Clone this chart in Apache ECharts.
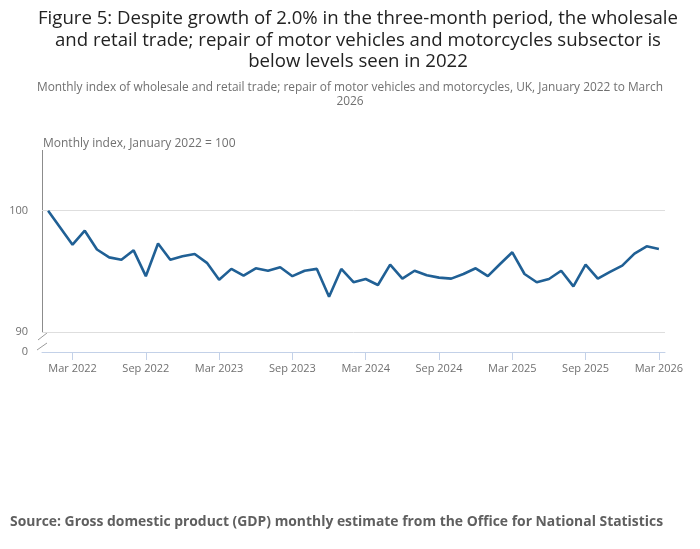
<!DOCTYPE html>
<html>
<head>
<meta charset="utf-8">
<script src="https://cdn.jsdelivr.net/npm/echarts@6/dist/echarts.min.js"></script>
<style>
html,body{margin:0;padding:0;background:#fff;}
#c{width:700px;height:549px;}
</style>
</head>
<body>
<div id="c"></div>
<script>
const months = [
  "Jan 2022","Feb 2022","Mar 2022","Apr 2022","May 2022","Jun 2022","Jul 2022","Aug 2022","Sep 2022","Oct 2022","Nov 2022","Dec 2022",
  "Jan 2023","Feb 2023","Mar 2023","Apr 2023","May 2023","Jun 2023","Jul 2023","Aug 2023","Sep 2023","Oct 2023","Nov 2023","Dec 2023",
  "Jan 2024","Feb 2024","Mar 2024","Apr 2024","May 2024","Jun 2024","Jul 2024","Aug 2024","Sep 2024","Oct 2024","Nov 2024","Dec 2024",
  "Jan 2025","Feb 2025","Mar 2025","Apr 2025","May 2025","Jun 2025","Jul 2025","Aug 2025","Sep 2025","Oct 2025","Nov 2025","Dec 2025",
  "Jan 2026","Feb 2026","Mar 2026"
];
const indexValues = [
  100.0, 98.6, 97.2, 98.35, 96.8, 96.15, 95.96, 96.73, 94.6, 97.3, 95.96, 96.24,
  96.43, 95.7, 94.3, 95.2, 94.64, 95.25, 95.05, 95.33, 94.6, 95.05, 95.2, 92.9,
  95.2, 94.1, 94.37, 93.87, 95.55, 94.4, 95.05, 94.67, 94.48, 94.4, 94.78, 95.25,
  94.6, 95.6, 96.57, 94.78, 94.1, 94.37, 95.05, 93.76, 95.55, 94.4, 94.95, 95.47,
  96.46, 97.06, 96.84
];
const xTickLabels = ["Mar 2022","Sep 2022","Mar 2023","Sep 2023","Mar 2024","Sep 2024","Mar 2025","Sep 2025","Mar 2026"];
const yTickValues = [0, 90, 100];
const gridLineValues = [90, 100];
const yBreak = { start: 0.5, end: 89.5 };

const FONT = "'Open Sans', sans-serif";
const chart = echarts.init(document.getElementById('c'), null, { renderer: 'canvas' });

const option = {
  animation: false,
  textStyle: { fontFamily: FONT },
  title: [{
    text: "Figure 5: Despite growth of 2.0% in the three-month period, the wholesale\nand retail trade; repair of motor vehicles and motorcycles subsector is\nbelow levels seen in 2022",
    left: 353, top: 3,
    textAlign: 'center',
    textStyle: { fontSize: 18.6, fontWeight: 'normal', color: '#222222', lineHeight: 21.5, fontFamily: FONT }
  }, {
    text: "Monthly index of wholesale and retail trade; repair of motor vehicles and motorcycles, UK, January 2022 to March\n2026",
    left: 345, top: 76,
    textAlign: 'center',
    textStyle: { fontSize: 11.9, fontWeight: 'normal', color: '#707070', lineHeight: 14, fontFamily: FONT }
  }, {
    text: "Source: Gross domestic product (GDP) monthly estimate from the Office for National Statistics",
    left: 5, top: 510,
    textStyle: { fontSize: 13.9, fontWeight: 'bold', color: '#5f5f5f', fontFamily: FONT }
  }],
  grid: { left: 42, right: 35, top: 150, bottom: 197, containLabel: false },
  xAxis: {
    type: 'category',
    data: months,
    boundaryGap: true,
    axisLine: { show: true, lineStyle: { color: '#c3d1e8', width: 1 } },
    axisTick: {
      show: true, alignWithLabel: true, length: 8,
      interval: (i, v) => xTickLabels.indexOf(v) >= 0,
      lineStyle: { color: '#c3d1e8' }
    },
    axisLabel: {
      interval: (i, v) => xTickLabels.indexOf(v) >= 0,
      color: '#707070', fontSize: 11, margin: 11, fontFamily: FONT
    },
    splitLine: { show: false }
  },
  yAxis: {
    type: 'value',
    min: 0, max: 105,
    breaks: [{ start: yBreak.start, end: yBreak.end, gap: '3.9%' }],
    breakArea: { show: false },
    name: "Monthly index, January 2022 = 100",
    nameLocation: 'end',
    nameGap: 2,
    nameTextStyle: { align: 'left', color: '#707070', fontSize: 12, fontFamily: FONT, padding: [0, 0, -2, 1] },
    axisLine: { show: false },
    axisTick: { show: false },
    axisLabel: { customValues: yTickValues, color: '#707070', fontSize: 11, margin: 14, fontFamily: FONT },
    splitLine: { show: false }
  },
  series: [{
    type: 'line',
    data: indexValues,
    symbol: 'none',
    lineStyle: { color: '#206095', width: 2.6 },
    itemStyle: { color: '#206095' },
    markLine: {
      silent: true, symbol: 'none', label: { show: false },
      lineStyle: { color: '#dedede', type: 'solid', width: 1 },
      data: gridLineValues.map(v => ({ yAxis: v })),
      z: 1
    },
    z: 3
  }]
};
chart.setOption(option);

function drawAxisDecor() {
  const axisX = 42;
  const yTop = chart.convertToPixel({ yAxisIndex: 0 }, 105);
  const y90 = chart.convertToPixel({ yAxisIndex: 0 }, 90);
  const y0 = chart.convertToPixel({ yAxisIndex: 0 }, 0);
  const mid = (y90 + y0) / 2;
  chart.setOption({
    graphic: [
      { type: 'line', shape: { x1: axisX + 0.5, y1: yTop, x2: axisX + 0.5, y2: y90 + 1 }, style: { stroke: '#8c8c8c', lineWidth: 1 }, silent: true },
      { type: 'line', shape: { x1: axisX - 4, y1: mid - 2, x2: axisX + 5, y2: y90 + 1 }, style: { stroke: '#9a9a9a', lineWidth: 1 }, silent: true },
      { type: 'line', shape: { x1: axisX - 5, y1: y0 - 2, x2: axisX + 5, y2: mid + 1 }, style: { stroke: '#9a9a9a', lineWidth: 1 }, silent: true }
    ]
  });
}
drawAxisDecor();
</script>
</body>
</html>
